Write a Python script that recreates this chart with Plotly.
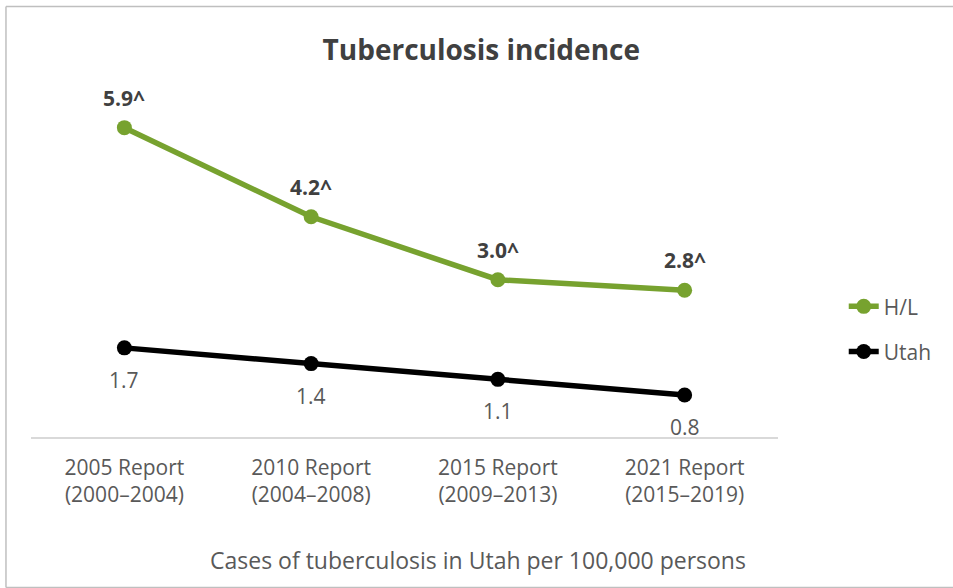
import plotly.graph_objects as go

categories = ["2005 Report<br>(2000–2004)", "2010 Report<br>(2004–2008)",
              "2015 Report<br>(2009–2013)", "2021 Report<br>(2015–2019)"]
hl_values = [5.9, 4.2, 3.0, 2.8]
hl_labels = ["5.9^", "4.2^", "3.0^", "2.8^"]
utah_values = [1.7, 1.4, 1.1, 0.8]
utah_labels = ["1.7", "1.4", "1.1", "0.8"]

GREEN = "#77A22F"
FONT = "Open Sans"

fig = go.Figure()
fig.add_trace(go.Scatter(
    x=categories, y=hl_values, name="H/L", mode="lines+markers",
    line=dict(color=GREEN, width=5.5), marker=dict(size=15, color=GREEN),
    legend="legend"))
fig.add_trace(go.Scatter(
    x=categories, y=utah_values, name="Utah", mode="lines+markers",
    line=dict(color="#000000", width=5.5), marker=dict(size=15, color="#000000"),
    legend="legend2"))

annotations = []
for c, v, t in zip(categories, hl_values, hl_labels):
    annotations.append(dict(x=c, y=v, xref="x", yref="y", text=f"<b>{t}</b>",
                            showarrow=False, yshift=30,
                            font=dict(family=FONT, size=21, color="#404040")))
for c, v, t in zip(categories, utah_values, utah_labels):
    annotations.append(dict(x=c, y=v, xref="x", yref="y", text=t,
                            showarrow=False, yshift=-32,
                            font=dict(family=FONT, size=21, color="#595959")))
annotations.append(dict(x=0.598, y=-0.336, xref="paper", yref="paper",
                        text="Cases of tuberculosis in Utah per 100,000 persons",
                        showarrow=False, xanchor="center", yanchor="middle",
                        font=dict(family=FONT, size=23, color="#595959")))

border = dict(color="#BFBFBF", width=1.5)
shapes = [
    dict(type="line", xref="paper", yref="paper", x0=-0.0335, x1=1.4, y0=1.173, y1=1.173, line=border, layer="below"),
    dict(type="line", xref="paper", yref="paper", x0=-0.0335, x1=-0.0335, y0=-0.41, y1=1.173, line=border, layer="below"),
    dict(type="line", xref="paper", yref="paper", x0=-0.0335, x1=1.4, y0=-0.41, y1=-0.41, line=border, layer="below"),
]

fig.update_layout(
    width=953, height=588,
    margin=dict(l=31, r=175, t=70, b=151),
    paper_bgcolor="white", plot_bgcolor="white",
    title=dict(text="<b>Tuberculosis incidence</b>", x=0.505, xanchor="center",
               y=0.915, yanchor="middle",
               font=dict(family=FONT, size=28, color="#404040")),
    font=dict(family=FONT, size=21, color="#595959"),
    xaxis=dict(type="category", range=[-0.5, 3.5], showgrid=False,
               showline=True, linecolor="#D9D9D9", linewidth=1.5,
               ticks="", ticklabelstandoff=11, zeroline=False,
               tickfont=dict(family=FONT, size=21, color="#595959")),
    yaxis=dict(range=[0, 7], visible=False, showgrid=False, zeroline=False),
    legend=dict(x=1.088, y=0.355, xanchor="left", yanchor="middle",
                bgcolor="rgba(0,0,0,0)", font=dict(family=FONT, size=21, color="#595959")),
    legend2=dict(x=1.088, y=0.232, xanchor="left", yanchor="middle",
                 bgcolor="rgba(0,0,0,0)", font=dict(family=FONT, size=21, color="#595959")),
    annotations=annotations,
    shapes=shapes,
    showlegend=True,
)

fig.write_html("out.html", config={"displayModeBar": False},
               post_script="document.body.style.margin='0';document.body.style.overflow='hidden';document.documentElement.style.overflow='hidden';")
